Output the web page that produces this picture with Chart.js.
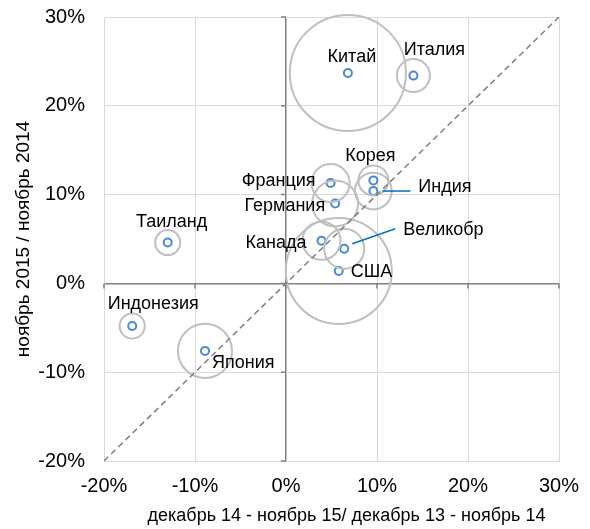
<!DOCTYPE html>
<html>
<head>
<meta charset="utf-8">
<script src="https://cdn.jsdelivr.net/npm/chart.js@4.4.1/dist/chart.umd.min.js"></script>
<style>
  html, body { margin: 0; padding: 0; background: #fff; }
  #wrap { width: 590px; height: 529px; }
</style>
</head>
<body>
<div id="wrap"><canvas id="chart"></canvas></div>
<script>
// data
const countries = ['Китай', 'Италия', 'Корея', 'Индия', 'Франция', 'Германия', 'Канада', 'Великобр', 'США', 'Таиланд', 'Индонезия', 'Япония'];
const growthX = [6.8, 14.0, 9.6, 9.6, 4.9, 5.4, 3.9, 6.4, 5.8, -13.0, -16.9, -8.9];
const growthY = [23.7, 23.4, 11.6, 10.4, 11.3, 9.0, 4.8, 3.9, 1.4, 4.6, -4.8, -7.6];
const bubbleSize = [120, 9.7, 8.0, 12.0, 12.9, 18.8, 12.9, 14.2, 100, 5.6, 5.6, 26];
const axisTicks = [-20, -10, 0, 10, 20, 30];
const xTitle = 'декабрь 14 - ноябрь 15/ декабрь 13 - ноябрь 14';
const yTitle = 'ноябрь 2015 / ноябрь 2014';

// label placement relative to each point (px)
const labelLayout = [
  { dx: 4, dy: -16, align: 'center' },
  { dx: 21, dy: -26, align: 'center' },
  { dx: -3, dy: -24, align: 'center' },
  { dx: 45, dy: -4, align: 'left', leader: [9, 0, 37, 0] },
  { dx: -15, dy: -2, align: 'right' },
  { dx: -10, dy: 3, align: 'right' },
  { dx: -15, dy: 2, align: 'right' },
  { dx: 59, dy: -19, align: 'left', leader: [8, -5, 51, -20] },
  { dx: 12, dy: 1, align: 'left' },
  { dx: 4, dy: -21, align: 'center' },
  { dx: 21, dy: -22, align: 'center' },
  { dx: 7, dy: 12, align: 'left' }
];

const FONT = "'Liberation Sans', Arial, sans-serif";
Chart.defaults.font.family = FONT;
Chart.defaults.color = '#000';

const points = countries.map((c, i) => ({ x: growthX[i], y: growthY[i] }));
const bubbles = countries.map((c, i) => ({ x: growthX[i], y: growthY[i], r: 5.3 * Math.sqrt(bubbleSize[i]) }));

const pointLabels = {
  id: 'pointLabels',
  afterDatasetsDraw(chart) {
    const ctx = chart.ctx;
    const meta = chart.getDatasetMeta(2);
    ctx.save();
    ctx.font = '18px ' + FONT;
    ctx.textBaseline = 'middle';
    meta.data.forEach((el, i) => {
      const l = labelLayout[i];
      if (l.leader) {
        ctx.strokeStyle = '#0070C0';
        ctx.lineWidth = 1.5;
        ctx.beginPath();
        ctx.moveTo(el.x + l.leader[0], el.y + l.leader[1]);
        ctx.lineTo(el.x + l.leader[2], el.y + l.leader[3]);
        ctx.stroke();
      }
      ctx.fillStyle = '#000';
      ctx.textAlign = l.align;
      ctx.fillText(countries[i], el.x + l.dx, el.y + l.dy);
    });
    // x axis title, a bit right of the plot centre like the original
    const a = chart.chartArea;
    ctx.font = '18px ' + FONT;
    ctx.textAlign = 'center';
    ctx.fillText(xTitle, (a.left + a.right) / 2 + 15, chart.height - 13);
    ctx.restore();
  }
};

// small tick marks along the zero axes
const zeroTicks = {
  id: 'zeroTicks',
  beforeDatasetsDraw(chart) {
    const { ctx, scales: { x, y } } = chart;
    const x0 = x.getPixelForValue(0), y0 = y.getPixelForValue(0);
    ctx.save();
    ctx.strokeStyle = '#808080';
    ctx.lineWidth = 1.5;
    ctx.beginPath();
    axisTicks.forEach(v => {
      const px = x.getPixelForValue(v);
      ctx.moveTo(px, y0); ctx.lineTo(px, y0 + 5);
      const py = y.getPixelForValue(v);
      ctx.moveTo(x0 - 5, py); ctx.lineTo(x0, py);
    });
    ctx.stroke();
    ctx.restore();
  }
};

function gridColor(c) { return c.tick && c.tick.value === 0 ? '#808080' : '#D9D9D9'; }
function gridWidth(c) { return c.tick && c.tick.value === 0 ? 1.5 : 1; }
function noPad(s) { s.paddingLeft = s.paddingRight = s.paddingTop = s.paddingBottom = 0; }

new Chart(document.getElementById('chart'), {
  type: 'bubble',
  data: {
    datasets: [
      {
        type: 'line',
        data: [{ x: -20, y: -20 }, { x: 30, y: 30 }],
        borderColor: '#7F7F7F',
        borderWidth: 1.5,
        borderDash: [6, 4],
        pointRadius: 0,
        fill: false
      },
      {
        data: bubbles,
        backgroundColor: 'rgba(0,0,0,0)',
        borderColor: '#BFBFBF',
        borderWidth: 2,
        hoverRadius: 0,
        clip: false
      },
      {
        type: 'scatter',
        data: points,
        pointRadius: 4,
        pointBorderWidth: 2,
        pointBorderColor: '#4A88D8',
        pointBackgroundColor: '#fff'
      }
    ]
  },
  options: {
    responsive: true,
    maintainAspectRatio: false,
    animation: false,
    layout: { autoPadding: false, padding: { top: 17, right: 31, left: 0, bottom: 0 } },
    plugins: { legend: { display: false }, tooltip: { enabled: false } },
    scales: {
      x: {
        type: 'linear',
        min: -20, max: 30,
        afterFit: s => { s.height = 68; noPad(s); },
        afterBuildTicks: s => { s.ticks = axisTicks.map(v => ({ value: v })); },
        ticks: { font: { size: 20 }, padding: 13, callback: v => v + '%' },
        grid: { color: gridColor, lineWidth: gridWidth, drawTicks: false },
        border: { color: '#D9D9D9' }
      },
      y: {
        type: 'linear',
        min: -20, max: 30,
        afterFit: s => { s.width = 104; noPad(s); },
        afterBuildTicks: s => { s.ticks = axisTicks.map(v => ({ value: v })); },
        ticks: { font: { size: 20 }, padding: 19, callback: v => v + '%' },
        grid: { color: gridColor, lineWidth: gridWidth, drawTicks: false },
        border: { color: '#D9D9D9' },
        title: { display: true, text: yTitle, font: { size: 19 }, padding: { top: 12 } }
      }
    }
  },
  plugins: [zeroTicks, pointLabels]
});
</script>
</body>
</html>
